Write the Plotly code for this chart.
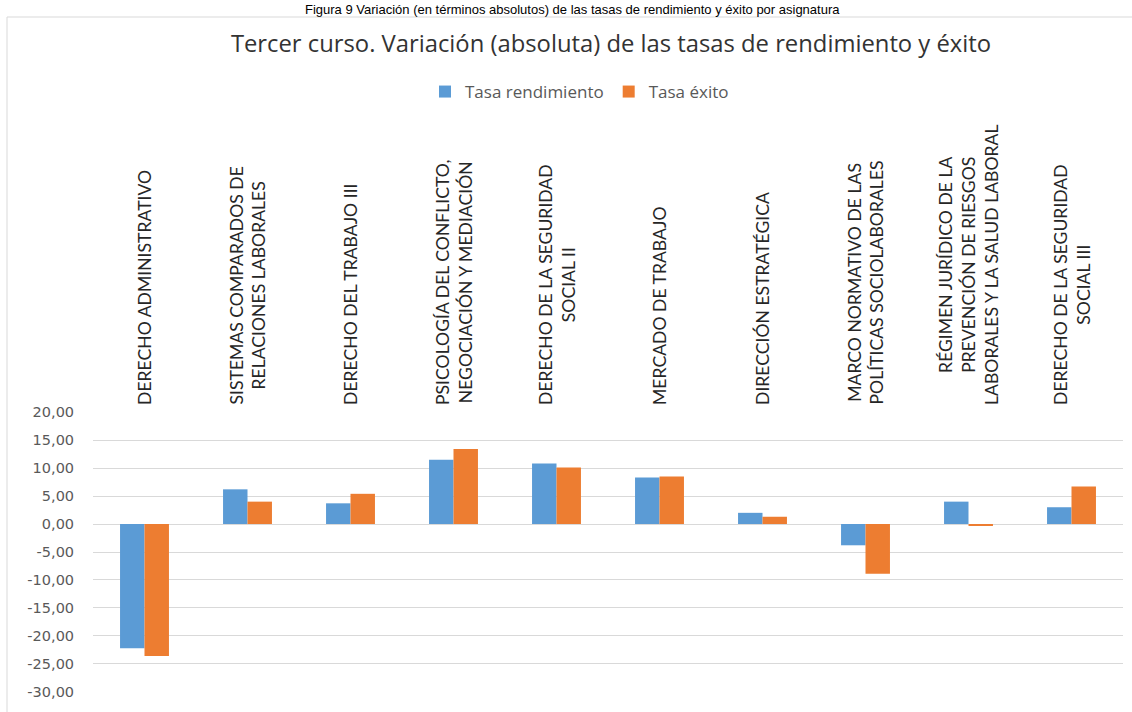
import plotly.graph_objects as go

categories = [
    "DERECHO ADMINISTRATIVO",
    "SISTEMAS COMPARADOS DE<br>RELACIONES LABORALES",
    "DERECHO DEL TRABAJO III",
    "PSICOLOGÍA DEL CONFLICTO,<br>NEGOCIACIÓN Y MEDIACIÓN",
    "DERECHO DE LA SEGURIDAD<br>SOCIAL II",
    "MERCADO DE TRABAJO",
    "DIRECCIÓN ESTRATÉGICA",
    "MARCO NORMATIVO DE LAS<br>POLÍTICAS SOCIOLABORALES",
    "RÉGIMEN JURÍDICO DE LA<br>PREVENCIÓN DE RIESGOS<br>LABORALES Y LA SALUD LABORAL",
    "DERECHO DE LA SEGURIDAD<br>SOCIAL III",
]
tasa_rendimiento = [-22.2, 6.2, 3.7, 11.5, 10.8, 8.3, 2.0, -3.8, 4.0, 3.0]
tasa_exito = [-23.6, 4.0, 5.4, 13.4, 10.1, 8.5, 1.3, -8.9, -0.3, 6.7]
y_ticks = [-30, -25, -20, -15, -10, -5, 0, 5, 10, 15, 20]
y_ticktext = [f"{v:.2f}".replace(".", ",") for v in y_ticks]

W, H = 1132, 712
L, R, T, B = 93, 1123, 412, 692

def px(x):
    return (x - L) / (R - L)

def py(y):
    return (B - y) / (B - T)

fig = go.Figure()
fig.add_trace(go.Bar(name="Tasa rendimiento", x=list(range(len(categories))),
                     y=tasa_rendimiento, marker_color="#5b9bd5", marker_line_width=0))
fig.add_trace(go.Bar(name="Tasa éxito", x=list(range(len(categories))),
                     y=tasa_exito, marker_color="#ed7d31", marker_line_width=0))

annotations = []
for i, c in enumerate(categories):
    annotations.append(dict(
        x=i, xref="x", y=py(407), yref="paper", text=c, textangle=-90,
        showarrow=False, xanchor="center", yanchor="bottom", align="center",
        font=dict(family="Lato", size=17.6, color="#262626"),
    ))
annotations.append(dict(
    x=px(572), xref="paper", y=py(0), yref="paper",
    text="Figura 9 Variación (en términos absolutos) de las tasas de rendimiento y éxito por asignatura",
    showarrow=False, xanchor="center", yanchor="top",
    font=dict(family="Liberation Sans", size=13, color="#000000"),
))

fig.update_layout(
    width=W, height=H,
    margin=dict(l=L, r=W - R, t=T, b=H - B, pad=0),
    paper_bgcolor="white", plot_bgcolor="white",
    barmode="group", bargap=0.525, bargroupgap=0,
    title=dict(text="Tercer curso. Variación (absoluta) de las tasas de rendimiento y éxito",
               x=611 / W, xanchor="center", y=1 - 44 / H, yanchor="middle",
               font=dict(family="Open Sans", size=23.8, color="#333333")),
    showlegend=True,
    legend=dict(orientation="h", x=px(425), xanchor="left", y=py(92), yanchor="middle",
                font=dict(family="Open Sans", size=17, color="#595959"),
                bgcolor="rgba(0,0,0,0)", itemwidth=30, traceorder="normal"),
    xaxis=dict(range=[-0.5, len(categories) - 0.5], showticklabels=False, showgrid=False,
               zeroline=False, showline=False, ticks=""),
    yaxis=dict(range=[-30.02, 20.02], tickvals=y_ticks, ticktext=y_ticktext,
               showgrid=True, gridcolor="#d9d9d9", gridwidth=1,
               zeroline=True, zerolinecolor="#d9d9d9", zerolinewidth=1,
               showline=False, ticks="outside", ticklen=15, tickcolor="rgba(0,0,0,0)",
               tickfont=dict(family="DejaVu Sans", size=14.5, color="#595959")),
    annotations=annotations,
    shapes=[dict(type="rect", xref="paper", yref="paper",
                 x0=px(7), x1=px(1140), y0=py(720), y1=py(17),
                 line=dict(color="#d9d9d9", width=1), fillcolor="rgba(0,0,0,0)", layer="below")],
)

fig.write_html("out.html", config={"displayModeBar": False},
               post_script="document.body.style.margin='0';")
